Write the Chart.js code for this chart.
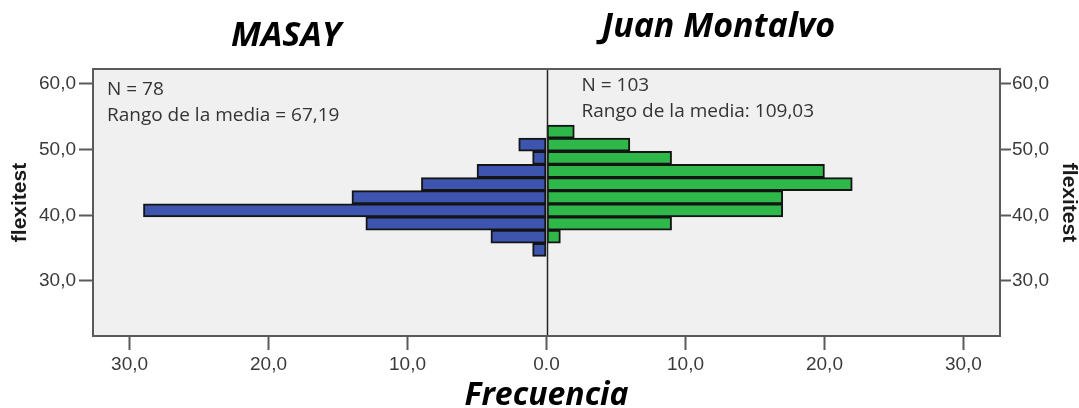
<!DOCTYPE html>
<html>
<head>
<meta charset="utf-8">
<script src="https://cdn.jsdelivr.net/npm/chart.js@4"></script>
<style>
  html, body { margin: 0; padding: 0; background: #ffffff; }
  #wrap { width: 1079px; height: 408px; position: relative; }
</style>
</head>
<body>
<div id="wrap"><canvas id="c"></canvas></div>
<script>
// flexitest bins (width 2), centre of each bin, shared by both groups
const binCentres = [52.75, 50.75, 48.75, 46.75, 44.75, 42.75, 40.75, 38.75, 36.75, 34.75];
// frequencies per bin
const masayCounts = [0, 2, 1, 5, 9, 14, 29, 13, 4, 1];
const juanMontalvoCounts = [2, 6, 9, 20, 22, 17, 17, 9, 1, 0];
// group headings and their summary notes
const groupNames = ['MASAY', 'Juan Montalvo'];
const groupNotes = [
  ['N = 78', 'Rango de la media = 67,19'],
  ['N = 103', 'Rango de la media: 109,03']
];
// axis ticks
const freqTickValues = [-30, -20, -10, 0, 10, 20, 30];
const freqTickLabels = ['30,0', '20,0', '10,0', '0.0', '10,0', '20,0', '30,0'];
const flexTickValues = [30, 40, 50, 60];

const tickFont = { family: '"Liberation Sans", Arial, sans-serif', size: 19 };
const tickColor = '#3a3a3a';
const frameColor = '#5a5a5a';

const flexLabel = v => Number(v).toFixed(1).replace('.', ',');

// plot background, frame, zero line, group headings and notes
const pyramidDecor = {
  id: 'pyramidDecor',
  beforeDraw(chart) {
    const { ctx, chartArea: a } = chart;
    ctx.save();
    ctx.fillStyle = '#f0f0f0';
    ctx.fillRect(a.left, a.top, a.right - a.left, a.bottom - a.top);
    ctx.restore();
  },
  afterDatasetsDraw(chart) {
    const { ctx, chartArea: a, scales } = chart;
    const zeroX = Math.round(scales.x.getPixelForValue(0)) + 0.5;
    ctx.save();
    ctx.strokeStyle = '#262626';
    ctx.lineWidth = 1.5;
    ctx.beginPath();
    ctx.moveTo(zeroX, a.top);
    ctx.lineTo(zeroX, a.bottom);
    ctx.stroke();
    ctx.strokeStyle = frameColor;
    ctx.lineWidth = 2;
    ctx.strokeRect(a.left, a.top, a.right - a.left, a.bottom - a.top);
    ctx.restore();
  },
  afterDraw(chart) {
    const { ctx, chartArea: a, scales } = chart;
    const zeroX = scales.x.getPixelForValue(0);
    ctx.save();
    // group headings
    ctx.fillStyle = '#000000';
    ctx.textAlign = 'center';
    ctx.textBaseline = 'alphabetic';
    ctx.font = 'italic bold 34px "Open Sans", sans-serif';
    ctx.fillText(groupNames[0], a.left + 193, 46);
    ctx.fillText(groupNames[1], zeroX + 172, 37);
    // summary notes
    ctx.fillStyle = '#333333';
    ctx.textAlign = 'left';
    ctx.font = '19px "Open Sans", sans-serif';
    ctx.fillText(groupNotes[0][0], a.left + 14, a.top + 26);
    ctx.fillText(groupNotes[0][1], a.left + 14, a.top + 52);
    ctx.fillText(groupNotes[1][0], zeroX + 35, a.top + 22);
    ctx.fillText(groupNotes[1][1], zeroX + 35, a.top + 48);
    ctx.restore();
  }
};

const flexAxis = (position, titlePad, width, tickLen, tickPad) => ({
  type: 'linear',
  position,
  axis: 'y',
  display: true,
  offset: false,
  min: 21.62,
  max: 62.28,
  afterBuildTicks: s => { s.ticks = flexTickValues.map(v => ({ value: v })); },
  afterFit: s => { s.width = width; },
  ticks: {
    font: tickFont,
    color: tickColor,
    padding: tickPad,
    callback: v => flexLabel(v)
  },
  grid: {
    display: true,
    offset: false,
    drawOnChartArea: false,
    drawTicks: true,
    tickLength: tickLen,
    tickWidth: 2,
    tickColor: frameColor
  },
  border: { display: false },
  title: {
    display: true,
    text: 'flexitest',
    color: '#1a1a1a',
    font: { family: '"Liberation Sans", Arial, sans-serif', size: 21, weight: 'bold', lineHeight: 1 },
    padding: { top: titlePad, bottom: 0 }
  }
});

new Chart(document.getElementById('c'), {
  type: 'bar',
  data: {
    datasets: [
      {
        label: groupNames[0],
        data: binCentres.map((y, i) => ({ x: -masayCounts[i], y })),
        backgroundColor: '#3d55ae',
        borderColor: '#141414',
        borderWidth: 2,
        borderSkipped: false,
        grouped: false,
        categoryPercentage: 1,
        barPercentage: 1
      },
      {
        label: groupNames[1],
        data: binCentres.map((y, i) => ({ x: juanMontalvoCounts[i], y })),
        backgroundColor: '#2fb84a',
        borderColor: '#141414',
        borderWidth: 2,
        borderSkipped: false,
        grouped: false,
        categoryPercentage: 1,
        barPercentage: 1
      }
    ]
  },
  options: {
    indexAxis: 'y',
    responsive: true,
    maintainAspectRatio: false,
    animation: false,
    devicePixelRatio: 1,
    layout: { padding: { top: 69, left: 0, right: 0, bottom: 0 } },
    plugins: {
      legend: { display: false },
      tooltip: { enabled: false }
    },
    scales: {
      x: {
        type: 'linear',
        position: 'bottom',
        min: -32.63,
        max: 32.63,
        afterBuildTicks: s => { s.ticks = freqTickValues.map(v => ({ value: v })); },
        afterFit: s => { s.height = 72; },
        ticks: {
          font: tickFont,
          color: tickColor,
          padding: 3,
          maxRotation: 0,
          callback: (v, i) => freqTickLabels[i]
        },
        grid: {
          display: true,
          drawOnChartArea: false,
          drawTicks: true,
          tickLength: 14,
          tickWidth: 2,
          tickColor: frameColor
        },
        border: { display: false },
        title: {
          display: true,
          text: 'Frecuencia',
          color: '#000000',
          font: { family: '"Open Sans", sans-serif', size: 32, weight: 'bold', style: 'italic', lineHeight: 0.75 },
          padding: { top: 0, bottom: 0 }
        }
      },
      y: flexAxis('left', 10, 93, 14, 3),
      y2: flexAxis('right', 0, 79, 11, 1)
    }
  },
  plugins: [pyramidDecor]
});
</script>
</body>
</html>
